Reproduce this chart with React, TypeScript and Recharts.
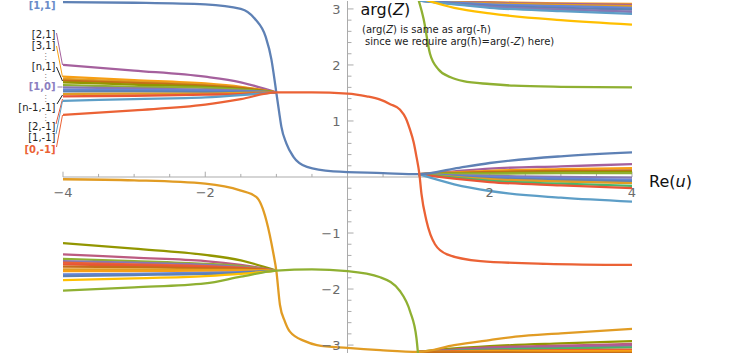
import React from 'react';
import { LineChart, Line, XAxis, YAxis, ReferenceLine } from 'recharts';

// ---------- palette (Mathematica default indexed colours) ----------
const C = {
  blue: '#5E81B5', orange: '#E19C24', green: '#8FB032', red: '#EB6235', purple: '#8778B3',
  brown: '#C56E1A', lightBlue: '#5D9EC7', yellow: '#FFBF00', magenta: '#A5609D', olive: '#929600',
  red2: '#E95536', blue2: '#6685D9', orange2: '#F89F13', pink: '#BC5B80', green2: '#47B66D',
};

// ---------- main curves ----------
const blueX = [-4, -3, -2, -1.5, -1.3, -1.15, -1.07, -1.04, -1, -0.96, -0.93, -0.86, -0.76, -0.57, -0.2, 0.5, 1, 1.5, 2, 3, 4];
const blueY = [3.12, 3.11, 3.08, 3.0, 2.82, 2.5, 2.1, 1.86, 1.5, 1.15, 0.9, 0.6, 0.36, 0.18, 0.1, 0.07, 0.05, 0.15, 0.25, 0.37, 0.44];

const redX = [-4, -3, -2, -1.5, -1, -0.5, 0, 0.27, 0.46, 0.6, 0.74, 0.82, 0.88, 0.93, 0.97, 1.01, 1.04, 1.11, 1.23, 1.4, 1.87, 2.8, 4];
const redY = [1.11, 1.19, 1.29, 1.39, 1.51, 1.51, 1.49, 1.44, 1.38, 1.3, 1.2, 1.05, 0.84, 0.62, 0.36, 0.06, -0.3, -0.78, -1.2, -1.38, -1.5, -1.55, -1.57];

const orangeX = [-4, -3, -2, -1.51, -1.28, -1.14, -1.04, -1, -0.95, -0.88, -0.81, -0.6, -0.43, 0, 0.46, 1, 1.5, 2, 2.36, 3, 4];
const orangeY = [-0.04, -0.06, -0.12, -0.24, -0.36, -0.78, -1.38, -1.68, -2.28, -2.58, -2.76, -2.93, -3.0, -3.05, -3.09, -3.12, -3.0, -2.91, -2.85, -2.79, -2.71];

const greenLowX = [-4, -3, -2, -1.5, -1, -0.5, 0, 0.46, 0.74, 0.88, 0.97, 0.995];
const greenLowY = [-2.03, -1.97, -1.9, -1.78, -1.67, -1.65, -1.68, -1.79, -2.04, -2.4, -2.88, -3.2];
const greenHighX = [0.99, 1.07, 1.16, 1.28, 1.45, 1.63, 2.0, 2.34, 3, 4];
const greenHighY = [3.2, 2.82, 2.2, 1.92, 1.78, 1.71, 1.66, 1.63, 1.61, 1.6];

// ---------- fans ----------
const leftFanX = [-4, -3, -2, -1.5, -1];
const rightFanX = [1, 1.5, 2, 3, 4];

const upperLeftFan = [
  { color: C.magenta, y: [2.0, 1.9, 1.79, 1.69, 1.51] },
  { color: C.orange2, y: [1.79, 1.73, 1.67, 1.61, 1.51] },
  { color: C.orange, y: [1.75, 1.7, 1.65, 1.6, 1.51] },
  { color: C.brown, y: [1.72, 1.68, 1.63, 1.59, 1.51] },
  { color: C.olive, y: [1.69, 1.65, 1.61, 1.57, 1.51] },
  { color: C.green, y: [1.64, 1.61, 1.59, 1.56, 1.51] },
  { color: C.purple, y: [1.6, 1.58, 1.56, 1.54, 1.51] },
  { color: C.blue2, y: [1.56, 1.55, 1.54, 1.53, 1.51] },
  { color: C.blue, y: [1.53, 1.53, 1.52, 1.52, 1.51] },
  { color: C.orange, y: [1.48, 1.49, 1.49, 1.5, 1.51] },
  { color: C.red2, y: [1.44, 1.45, 1.47, 1.48, 1.51] },
  { color: C.lightBlue, y: [1.36, 1.39, 1.42, 1.46, 1.51] },
];

const lowerLeftFan = [
  { color: C.olive, y: [-1.18, -1.28, -1.39, -1.49, -1.67] },
  { color: C.pink, y: [-1.38, -1.44, -1.5, -1.57, -1.67] },
  { color: C.green, y: [-1.46, -1.5, -1.55, -1.59, -1.67] },
  { color: C.purple, y: [-1.5, -1.53, -1.57, -1.61, -1.67] },
  { color: C.red, y: [-1.53, -1.56, -1.59, -1.62, -1.67] },
  { color: C.red2, y: [-1.56, -1.58, -1.61, -1.63, -1.67] },
  { color: C.brown, y: [-1.6, -1.61, -1.63, -1.64, -1.67] },
  { color: C.orange, y: [-1.65, -1.65, -1.66, -1.66, -1.67] },
  { color: C.orange2, y: [-1.68, -1.68, -1.67, -1.67, -1.67] },
  { color: C.blue2, y: [-1.74, -1.73, -1.71, -1.7, -1.67] },
  { color: C.blue, y: [-1.77, -1.75, -1.73, -1.71, -1.67] },
  { color: C.yellow, y: [-1.84, -1.81, -1.77, -1.73, -1.67] },
];

const middleRightFan = [
  { color: C.magenta, y: [0.05, 0.1, 0.15, 0.19, 0.23] },
  { color: C.orange2, y: [0.05, 0.08, 0.11, 0.14, 0.16] },
  { color: C.brown, y: [0.05, 0.07, 0.09, 0.11, 0.12] },
  { color: C.olive, y: [0.05, 0.06, 0.07, 0.08, 0.09] },
  { color: C.green, y: [0.05, 0.06, 0.06, 0.07, 0.07] },
  { color: C.purple, y: [0.05, 0.03, 0.02, 0.0, -0.01] },
  { color: C.blue2, y: [0.05, 0.02, 0.0, -0.03, -0.05] },
  { color: C.blue, y: [0.05, 0.01, -0.02, -0.05, -0.08] },
  { color: C.orange, y: [0.05, 0.0, -0.04, -0.08, -0.11] },
  { color: C.green2, y: [0.05, -0.01, -0.07, -0.12, -0.16] },
  { color: C.red2, y: [0.05, -0.03, -0.09, -0.15, -0.2] },
  { color: C.lightBlue, y: [0.05, -0.13, -0.25, -0.37, -0.44] },
];

const topRightFan = [
  { color: C.orange2, y: [3.15, 3.13, 3.12, 3.1, 3.09] },
  { color: C.magenta, y: [3.15, 3.13, 3.11, 3.09, 3.07] },
  { color: C.orange, y: [3.15, 3.12, 3.1, 3.07, 3.05] },
  { color: C.blue2, y: [3.15, 3.11, 3.08, 3.05, 3.02] },
  { color: C.blue, y: [3.15, 3.1, 3.06, 3.02, 2.99] },
  { color: C.purple, y: [3.15, 3.09, 3.04, 2.99, 2.95] },
  { color: C.lightBlue, y: [3.15, 3.08, 3.02, 2.96, 2.91] },
  { color: C.yellow, y: [3.2, 3.02, 2.92, 2.8, 2.72] },
];

const bottomRightFan = [
  { color: C.olive, y: [-3.12, -3.06, -3.02, -2.97, -2.93] },
  { color: C.pink, y: [-3.12, -3.08, -3.04, -3.01, -2.98] },
  { color: C.magenta, y: [-3.12, -3.09, -3.06, -3.03, -3.01] },
  { color: C.green2, y: [-3.12, -3.1, -3.08, -3.06, -3.04] },
  { color: C.red, y: [-3.12, -3.11, -3.1, -3.09, -3.08] },
  { color: C.orange2, y: [-3.12, -3.12, -3.11, -3.11, -3.11] },
  { color: C.brown, y: [-3.12, -3.13, -3.13, -3.14, -3.14] },
];

// ---------- ticks ----------
const xMajorTicks = [-4, -2, 2, 4];
const xTickLabels = ['\u22124', '\u22122', '2', '4'];
const xMinorTicks = [-3.5, -3, -2.5, -1.5, -1, -0.5, 0.5, 1, 1.5, 2.5, 3, 3.5];
const yMajorTicks = [-3, -2, -1, 1, 2, 3];
const yTickLabels = ['\u22123', '\u22122', '\u22121', '1', '2', '3'];
const yMinorTicks = [-2.8, -2.6, -2.4, -2.2, -1.8, -1.6, -1.4, -1.2, -0.8, -0.6, -0.4, -0.2,
  0.2, 0.4, 0.6, 0.8, 1.2, 1.4, 1.6, 1.8, 2.2, 2.4, 2.6, 2.8];

// ---------- left-hand curve labels ----------
const curveLabels = [
  { text: '[1,1]', y: 5.8, color: '#6a8cc8', bold: true },
  { text: '[2,1]', y: 35, color: '#222', bold: false },
  { text: '[3,1]', y: 45.7, color: '#222', bold: false },
  { text: '[n,1]', y: 66.7, color: '#222', bold: false },
  { text: '[1,0]', y: 86.7, color: '#8c80c0', bold: true },
  { text: '[n-1,-1]', y: 107.3, color: '#222', bold: false },
  { text: '[2,-1]', y: 126.7, color: '#222', bold: false },
  { text: '[1,-1]', y: 137.3, color: '#222', bold: false },
  { text: '[0,-1]', y: 149.3, color: '#EB6235', bold: true },
];
const dotRows = [56, 77, 97.7, 116.7];
const leaders = [
  { color: C.magenta, p: [56.5, 33, 62.5, 65] },
  { color: C.orange2, p: [56.5, 46, 62.5, 77] },
  { color: '#222', p: [56.5, 67, 62.5, 81] },
  { color: C.purple, p: [57.5, 87, 62.5, 87] },
  { color: '#222', p: [57, 104, 62.5, 95] },
  { color: C.red2, p: [56, 124, 62.5, 99] },
  { color: C.lightBlue, p: [56, 134, 62.5, 101] },
  { color: C.red, p: [56.5, 147, 62.5, 115] },
];

const pts = (xs: number[], ys: number[]) => xs.map((x, i) => ({ x, y: ys[i] }));

const AX = '#ababab';
const W = 747;
const H = 359;
const FONT = 'DejaVu Sans';

export default function App() {
  const lw = 2.3;
  const fanLine = (xs: number[], f: { color: string; y: number[] }, key: string) => (
    <Line key={key} data={pts(xs, f.y)} dataKey="y" type="monotone" stroke={f.color}
      strokeWidth={lw} dot={false} isAnimationActive={false} />
  );
  return (
    <div style={{ position: 'absolute', left: 0, top: 0, width: W, height: H, fontFamily: FONT, background: '#fff' }}>
      <LineChart width={W} height={H} margin={{ top: 1, left: 63, right: 115, bottom: 6 }}>
        <XAxis type="number" dataKey="x" domain={[-4, 4]} hide allowDataOverflow />
        <YAxis type="number" dataKey="y" domain={[-Math.PI, Math.PI]} hide allowDataOverflow />
        <ReferenceLine y={0} stroke={AX} strokeWidth={1} />
        <ReferenceLine x={0} stroke={AX} strokeWidth={1} />
        {xMinorTicks.map((v) => (
          <ReferenceLine key={'xm' + v} segment={[{ x: v, y: 0 }, { x: v, y: 0.055 }]} stroke={AX} ifOverflow="visible" />
        ))}
        {xMajorTicks.map((v, i) => (
          <ReferenceLine key={'xM' + v} segment={[{ x: v, y: 0 }, { x: v, y: 0.095 }]} stroke={AX} ifOverflow="visible"
            label={{ value: xTickLabels[i], position: 'bottom', offset: 11, fill: '#6b6b6b', fontSize: 13, fontFamily: FONT }} />
        ))}
        {yMinorTicks.map((v) => (
          <ReferenceLine key={'ym' + v} segment={[{ x: 0, y: v }, { x: 0.056, y: v }]} stroke={AX} ifOverflow="visible" />
        ))}
        {yMajorTicks.map((v, i) => (
          <ReferenceLine key={'yM' + v} segment={[{ x: 0, y: v }, { x: 0.085, y: v }]} stroke={AX} ifOverflow="visible"
            label={{ value: yTickLabels[i], position: 'left', offset: 7, fill: '#6b6b6b', fontSize: 13, fontFamily: FONT }} />
        ))}

        {upperLeftFan.map((f, i) => fanLine(leftFanX, f, 'ul' + i))}
        {lowerLeftFan.map((f, i) => fanLine(leftFanX, f, 'll' + i))}
        {middleRightFan.map((f, i) => fanLine(rightFanX, f, 'mr' + i))}
        {topRightFan.map((f, i) => fanLine(rightFanX, f, 'tr' + i))}
        {bottomRightFan.map((f, i) => fanLine(rightFanX, f, 'br' + i))}

        <Line data={pts(orangeX, orangeY)} dataKey="y" type="monotone" stroke={C.orange} strokeWidth={lw} dot={false} isAnimationActive={false} />
        <Line data={pts(blueX, blueY)} dataKey="y" type="monotone" stroke={C.blue} strokeWidth={lw} dot={false} isAnimationActive={false} />
        <Line data={pts(greenLowX, greenLowY)} dataKey="y" type="monotone" stroke={C.green} strokeWidth={lw} dot={false} isAnimationActive={false} />
        <Line data={pts(greenHighX, greenHighY)} dataKey="y" type="monotone" stroke={C.green} strokeWidth={lw} dot={false} isAnimationActive={false} />
        <Line data={pts(redX, redY)} dataKey="y" type="monotone" stroke={C.red} strokeWidth={lw} dot={false} isAnimationActive={false} />
      </LineChart>

      <svg width={W} height={H} style={{ position: 'absolute', left: 0, top: 0, pointerEvents: 'none' }}>
        {leaders.map((l, i) => (
          <line key={'ld' + i} x1={l.p[0]} y1={l.p[1]} x2={l.p[2]} y2={l.p[3]} stroke={l.color} strokeWidth={1} />
        ))}
        {curveLabels.map((l) => (
          <text key={l.text} x={55.5} y={l.y + 3.2} textAnchor="end" fontSize={10} fontFamily={FONT}
            fontWeight={l.bold ? 'bold' : 'normal'} fill={l.color}>{l.text}</text>
        ))}
        {dotRows.map((y, i) => (
          <text key={'dot' + i} x={45.5} y={y + 3} textAnchor="middle" fontSize={8} fontFamily={FONT} fill="#777">⋮</text>
        ))}
        <text x={360.5} y={14.5} fontSize={16} fontFamily={FONT} fill="#111">
          arg(<tspan fontStyle="italic">Z</tspan>)
        </text>
        <text x={362} y={32.5} fontSize={10} fontFamily={FONT} fill="#222">
          (arg(<tspan fontStyle="italic">Z</tspan>) is same as arg(-ħ)
        </text>
        <text x={365} y={45} fontSize={10} fontFamily={FONT} fill="#222">
          since we require arg(ħ)=arg(-<tspan fontStyle="italic">Z</tspan>) here)
        </text>
        <text x={649} y={187.3} fontSize={16} fontFamily={FONT} fill="#111">
          Re(<tspan fontStyle="italic">u</tspan>)
        </text>
      </svg>
    </div>
  );
}
